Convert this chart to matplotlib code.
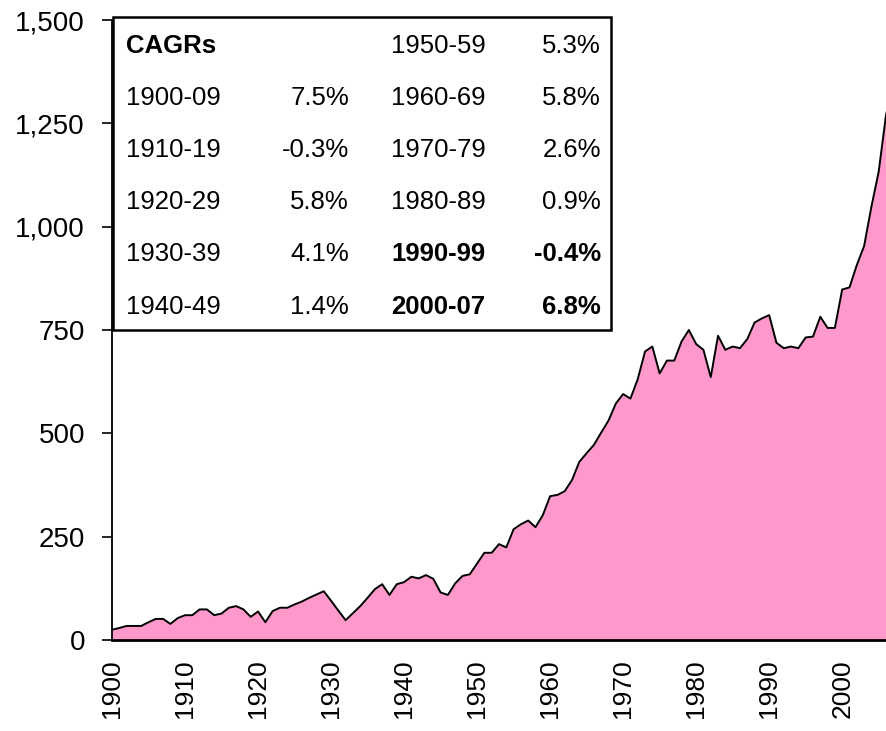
import matplotlib
matplotlib.use("Agg")
import matplotlib.pyplot as plt
from matplotlib.patches import Rectangle
from matplotlib.ticker import FuncFormatter

plt.rcParams['font.family'] = ['Liberation Sans', 'DejaVu Sans']

years = list(range(1900, 2008))
values = [
    25, 29, 34, 34, 34, 43, 51, 51, 39, 53,          # 1900s
    60, 60, 74, 74, 60, 64, 78, 82, 74, 56,          # 1910s
    69, 43, 70, 78, 78, 86, 93, 102, 110, 118,       # 1920s
    95, 71, 48, 65, 82, 102, 123, 135, 109, 135,     # 1930s
    140, 153, 149, 157, 148, 115, 109, 137, 155, 159,  # 1940s
    185, 211, 211, 232, 224, 268, 280, 289, 273, 302,  # 1950s
    348, 351, 360, 387, 431, 452, 472, 502, 531, 572,  # 1960s
    595, 584, 631, 698, 710, 645, 676, 676, 722, 750,  # 1970s
    716, 702, 636, 736, 702, 710, 706, 728, 768, 778,  # 1980s
    786, 719, 706, 710, 706, 732, 734, 782, 755, 755,  # 1990s
    848, 853, 907, 953, 1048, 1133, 1270, 1345,        # 2000s
]

cagr_periods_left = ["1900-09", "1910-19", "1920-29", "1930-39", "1940-49"]
cagr_values_left = ["7.5%", "-0.3%", "5.8%", "4.1%", "1.4%"]
cagr_periods_right = ["1950-59", "1960-69", "1970-79", "1980-89", "1990-99", "2000-07"]
cagr_values_right = ["5.3%", "5.8%", "2.6%", "0.9%", "-0.4%", "6.8%"]
bold_right = [False, False, False, False, True, True]

x_ticks = list(range(1900, 2001, 10))
y_ticks = [0, 250, 500, 750, 1000, 1250, 1500]

W, H = 886, 731
fig = plt.figure(figsize=(W / 100, H / 100), dpi=100)

def fx(px):
    return px / W

def fy(py):
    return 1 - py / H

ax = fig.add_axes([fx(112), fy(640), (886 - 112) / W, (640 - 20) / H])
ax.fill_between(years, values, 0, color='#FF99CC', linewidth=0)
ax.plot(years, values, color='black', linewidth=1.4)

ax.set_xlim(1900, 2006)
ax.set_ylim(0, 1500)
ax.set_yticks(y_ticks)
ax.yaxis.set_major_formatter(FuncFormatter(lambda v, p: f"{int(v):,}"))
ax.set_xticks(x_ticks)
ax.set_xticklabels([str(t) for t in x_ticks], rotation=90)
ax.tick_params(axis='y', direction='out', length=7.5, width=1.2, labelsize=20, pad=12)
ax.tick_params(axis='x', length=0, labelsize=19, pad=14)
for s in ['top', 'right']:
    ax.spines[s].set_visible(False)
ax.spines['left'].set_linewidth(1.3)
ax.spines['bottom'].set_linewidth(2)
ax.set_facecolor('white')

# CAGR table box
box = Rectangle((fx(113), fy(330)), (611 - 113) / W, (330 - 17) / H,
                transform=fig.transFigure, fill=True, facecolor='white',
                edgecolor='black', linewidth=1.8, zorder=5)
fig.patches.append(box)

fs = 18.5
row_y = [46, 98, 150, 202, 254, 307]
fig.text(fx(126), fy(row_y[0]), "CAGRs", fontsize=fs, fontweight='bold',
         ha='left', va='center', zorder=6)
for i, (p, v) in enumerate(zip(cagr_periods_left, cagr_values_left)):
    fig.text(fx(126), fy(row_y[i + 1]), p, fontsize=fs, ha='left', va='center', zorder=6)
    fig.text(fx(349), fy(row_y[i + 1]), v, fontsize=fs, ha='right', va='center', zorder=6)
for i, (p, v, b) in enumerate(zip(cagr_periods_right, cagr_values_right, bold_right)):
    w = 'bold' if b else 'normal'
    fig.text(fx(391), fy(row_y[i]), p, fontsize=fs, fontweight=w, ha='left', va='center', zorder=6)
    fig.text(fx(601), fy(row_y[i]), v, fontsize=fs, fontweight=w, ha='right', va='center', zorder=6)

fig.savefig("out.png", dpi=100, facecolor='white')
